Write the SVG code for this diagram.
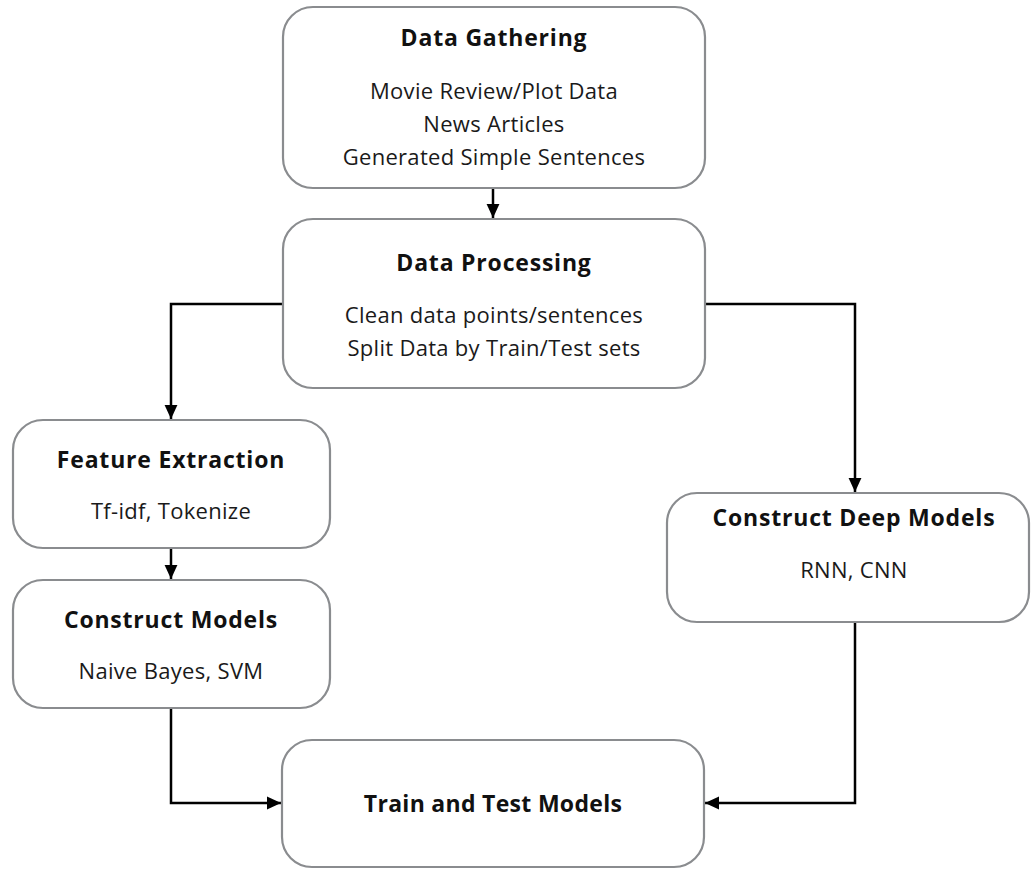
<svg xmlns="http://www.w3.org/2000/svg" width="1031" height="869" viewBox="0 0 1031 869">
<defs>
<style>
.box{fill:#fff;stroke:#8a8c8f;stroke-width:2.2}
.t{font-family:"Open Sans",Lato,"Liberation Sans",sans-serif;font-weight:700;font-size:23px;letter-spacing:0.8px;fill:#111;text-anchor:middle}
.b{font-family:"Open Sans",Lato,"Liberation Sans",sans-serif;font-weight:400;font-size:22px;letter-spacing:0.3px;fill:#1a1a1a;text-anchor:middle}
.c{fill:none;stroke:#000;stroke-width:2.5;marker-end:url(#ah)}
</style>
<marker id="ah" markerUnits="userSpaceOnUse" markerWidth="14" markerHeight="14" viewBox="0 0 12 12" refX="12" refY="6" orient="auto">
<path d="M0,0.5 L12,6 L0,11.5 Z" fill="#000"/>
</marker>
</defs>
<rect width="1031" height="869" fill="#fff"/>
<g id="connectors">
<path class="c" d="M493,188 V218"/>
<path class="c" d="M283,304 H171 V419"/>
<path class="c" d="M705,304 H855 V492"/>
<path class="c" d="M171,548 V579"/>
<path class="c" d="M171,708 V803 H281"/>
<path class="c" d="M855,622 V803 H705"/>
</g>
<g id="data-gathering">
<rect class="box" x="283" y="7" width="422" height="181" rx="30"/>
<text class="t" x="494" y="46">Data Gathering</text>
<text class="b" x="494" y="99">Movie Review/Plot Data</text>
<text class="b" x="494" y="132">News Articles</text>
<text class="b" x="494" y="165">Generated Simple Sentences</text>
</g>
<g id="data-processing">
<rect class="box" x="283" y="219" width="422" height="169" rx="30"/>
<text class="t" x="494" y="271">Data Processing</text>
<text class="b" x="494" y="323">Clean data points/sentences</text>
<text class="b" x="494" y="356">Split Data by Train/Test sets</text>
</g>
<g id="feature-extraction">
<rect class="box" x="13" y="420" width="317" height="128" rx="30"/>
<text class="t" x="171" y="468">Feature Extraction</text>
<text class="b" x="171" y="519">Tf-idf, Tokenize</text>
</g>
<g id="construct-models">
<rect class="box" x="13" y="580" width="317" height="128" rx="30"/>
<text class="t" x="171" y="628">Construct Models</text>
<text class="b" x="171" y="679">Naive Bayes, SVM</text>
</g>
<g id="construct-deep-models">
<rect class="box" x="667" y="493" width="362" height="129" rx="30"/>
<text class="t" x="854" y="526">Construct Deep Models</text>
<text class="b" x="854" y="578">RNN, CNN</text>
</g>
<g id="train-test">
<rect class="box" x="282" y="740" width="422" height="127" rx="30"/>
<text class="t" x="493" y="812" style="letter-spacing:0.3px">Train and Test Models</text>
</g>
</svg>
